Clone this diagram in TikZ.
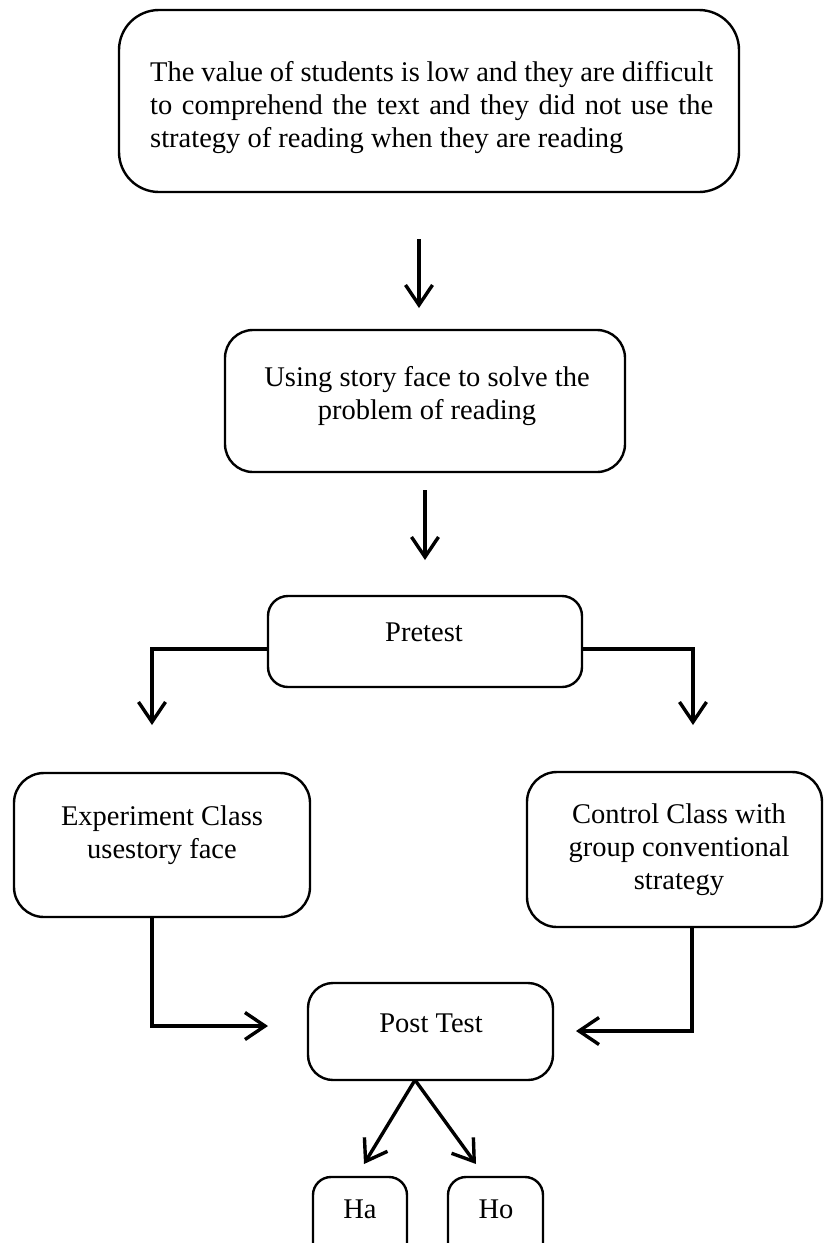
\documentclass[tikz,border=0pt]{standalone}
\usepackage{fontspec}
\setmainfont{Liberation Serif}
\usetikzlibrary{arrows.meta}
\tikzset{
  box/.style={draw, line width=2.4pt, rounded corners=#1, inner sep=0pt},
  box/.default=28pt,
  txt/.style={inner sep=0pt, font=\fontsize{28.5}{33}\selectfont, align=center},
  conn/.style={line width=3.4pt, line join=miter},
  arr/.style={conn, -{Straight Barb[length=20pt,width=27pt]}},
}
\begin{document}
\begin{tikzpicture}[x=1pt,y=-1pt]
\useasboundingbox (0,0) rectangle (827,1243);
\clip (0,0) rectangle (827,1243);
% boxes
\node[box=40pt, minimum width=620pt, minimum height=182pt] (b1) at (429,101) {};
\node[box=28pt, minimum width=400pt, minimum height=142pt] (b2) at (425,401) {};
\node[box=20pt, minimum width=314pt, minimum height=91pt] (b3) at (425,641.5) {};
\node[box=30pt, minimum width=296pt, minimum height=144pt] (b4) at (162,845) {};
\node[box=30pt, minimum width=295pt, minimum height=155pt] (b5) at (674.5,849.5) {};
\node[box=25pt, minimum width=245pt, minimum height=97pt] (pt) at (430.5,1031.5) {};
\node[box=18pt, minimum width=94pt, minimum height=90pt] (ha) at (360,1222) {};
\node[box=18pt, minimum width=95pt, minimum height=90pt] (ho) at (495.5,1222) {};
% texts
\node[txt, anchor=north west, text width=563pt, align=justify] (t1) at (150,61.5)
  {\hyphenpenalty=10000 The value of students is low and they are difficult\linebreak to comprehend the text and they did not use the\linebreak strategy of reading when they are reading};
\node[txt, anchor=north] (t2) at (427,366) {Using story face to solve the\\problem of reading};
\node[txt, anchor=base] (t3) at (424,641) {Pretest};
\node[txt, anchor=north] (t4) at (162,806) {Experiment Class\\usestory face};
\node[txt, anchor=north] (t5) at (679,803.5) {Control Class with\\group conventional\\strategy};
\node[txt, anchor=base] (t6) at (431,1032) {Post Test};
\node[txt, anchor=base] (t7) at (360,1218) {Ha};
\node[txt, anchor=base] (t8) at (496,1218) {Ho};
% connector points
\coordinate (a1s) at (419,239);
\coordinate (a1e) at (419,308);
\coordinate (a2s) at (425,490);
\coordinate (a2e) at (425,560);
\coordinate (lb) at (152,649);
\coordinate (lbe) at (152,725);
\coordinate (rb) at (693,649);
\coordinate (rbe) at (693,725);
\coordinate (lp) at (152,1026);
\coordinate (lpe) at (268,1026);
\coordinate (rp) at (692,1031);
\coordinate (rpe) at (576,1031);
\coordinate (pf) at (415,1080);
\coordinate (hae) at (364,1164);
\coordinate (hoe) at (476,1164);
% connectors
\draw[arr] (a1s) -- (a1e);
\draw[arr] (a2s) -- (a2e);
\draw[arr] (b3.west |- lb) -- (lb) -- (lbe);
\draw[arr] (b3.east |- rb) -- (rb) -- (rbe);
\draw[arr] (b4.south -| lp) -- (lp) -- (lpe);
\draw[arr] (b5.south -| rp) -- (rp) -- (rpe);
\draw[arr] (pf) -- (hae);
\draw[arr] (pf) -- (hoe);
\end{tikzpicture}
\end{document}
